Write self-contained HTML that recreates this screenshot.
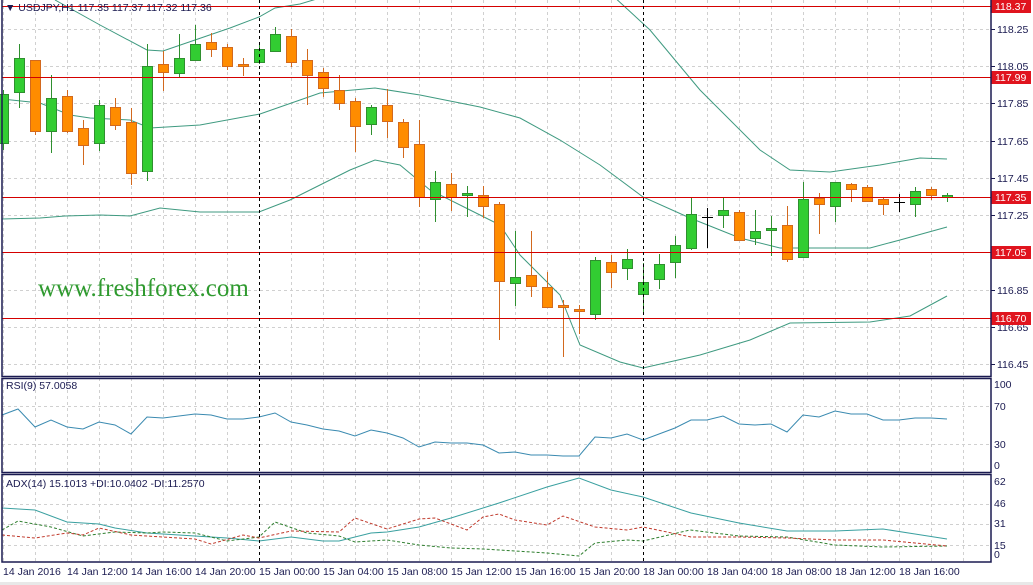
<!DOCTYPE html>
<html><head><meta charset="utf-8"><style>
html,body{margin:0;padding:0;background:#fff;}
svg{display:block;font-family:"Liberation Sans",sans-serif;}
</style></head><body>
<svg id="s" width="1033" height="585" viewBox="0 0 1033 585" xmlns="http://www.w3.org/2000/svg">
<rect width="1033" height="585" fill="#fff"/>
<g id="grid" stroke="#d0d0d0" stroke-dasharray="3,3" stroke-width="1"></g>
<g id="bands" fill="none" stroke="#3f9a80" stroke-width="1"></g>
<g id="candles"></g>
<g id="reds" stroke="#d40000" stroke-width="1" shape-rendering="crispEdges"></g>
<g id="ind" fill="none"></g>
<text x="38" y="296" font-family="Liberation Serif,serif" font-size="25" fill="#2f9a2f">www.freshforex.com</text>
<text x="5" y="11" font-size="10.5" fill="#1a1a50">▼ USDJPY,H1  117.35 117.37 117.32 117.36</text>
<text x="6" y="389" font-size="10.5" fill="#1a1a50">RSI(9) 57.0058</text>
<text x="6" y="487" font-size="10.5" fill="#1a1a50">ADX(14) 15.1013 +DI:10.0402 -DI:11.2570</text>
<g font-size="10.5" fill="#1a1a50">
<text x="997" y="33">118.25</text><text x="997" y="70">118.05</text><text x="997" y="107">117.85</text>
<text x="997" y="145">117.65</text><text x="997" y="182">117.45</text><text x="997" y="219">117.25</text>
<text x="997" y="294">116.85</text><text x="997" y="331">116.65</text><text x="997" y="368">116.45</text>
<text x="994" y="388">100</text><text x="994" y="410">70</text><text x="994" y="448">30</text><text x="994" y="469">0</text>
<text x="994" y="485">62</text><text x="994" y="507">46</text><text x="994" y="527">31</text><text x="994" y="549">15</text><text x="994" y="558">0</text>
</g>
<g font-size="10.5" fill="#1a1a50">
<text x="3" y="575">14 Jan 2016</text><text x="67" y="575">14 Jan 12:00</text><text x="131" y="575">14 Jan 16:00</text>
<text x="195" y="575">14 Jan 20:00</text><text x="259" y="575">15 Jan 00:00</text><text x="323" y="575">15 Jan 04:00</text>
<text x="387" y="575">15 Jan 08:00</text><text x="451" y="575">15 Jan 12:00</text><text x="515" y="575">15 Jan 16:00</text>
<text x="579" y="575">15 Jan 20:00</text><text x="643" y="575">18 Jan 00:00</text><text x="707" y="575">18 Jan 04:00</text>
<text x="771" y="575">18 Jan 08:00</text><text x="835" y="575">18 Jan 12:00</text><text x="899" y="575">18 Jan 16:00</text>
</g>
<g id="lbl" font-size="10.5" fill="#fff"></g>
<g stroke="#000" stroke-dasharray="3,3"><line x1="259.5" y1="0" x2="259.5" y2="562"/><line x1="643.5" y1="0" x2="643.5" y2="562"/></g>
<g fill="none" stroke="#1a1a50" stroke-width="1.5">
<rect x="2" y="-1" width="989" height="377.5"/>
<rect x="2" y="378.5" width="989" height="94"/>
<rect x="2" y="474.5" width="989" height="87.5"/>
</g>
<rect x="0" y="582" width="1033" height="3" fill="#e8e8e8"/>
</svg>
<script>
var NS="http://www.w3.org/2000/svg";
function el(p,t,a){var e=document.createElementNS(NS,t);for(var k in a)e.setAttribute(k,a[k]);document.getElementById(p).appendChild(e);return e;}
for(var x=3;x<991;x+=32){el("grid","line",{x1:x+.5,y1:0,x2:x+.5,y2:562});}
[29,66,103,141,178,215,252,290,327,364,406,444,504,524,545].forEach(function(y){el("grid","line",{x1:2,y1:y+.5,x2:991,y2:y+.5});});
[29,66,103,141,178,215,252,290,327,364].forEach(function(y){el("grid","line",{x1:991,y1:y+.5,x2:995,y2:y+.5,stroke:"#1a1a50","stroke-dasharray":"none"});});
[[6,"118.37"],[77,"117.99"],[197,"117.35"],[252,"117.05"],[318,"116.70"]].forEach(function(r){
 el("reds","line",{x1:2,y1:r[0]+.5,x2:991,y2:r[0]+.5});
 el("lbl","rect",{x:991,y:r[0]-6,width:40,height:13,fill:"#e0141e"});
 var t=el("lbl","text",{x:995,y:r[0]+4});t.textContent=r[1];
});
function pl(g,pts,a){a.points=pts.map(function(p){return p.join(",")}).join(" ");return el(g,"polyline",a);}
pl("bands",[[55,0],[100,25],[147,50],[163,51],[195,40],[230,28],[259,17],[275,8],[300,4],[330,-5]],{});
pl("bands",[[612,-5],[650,30],[700,90],[760,150],[790,170],[830,172],[880,165],[920,158],[947,159]],{});
pl("bands",[[2,99],[40,103],[70,115],[90,118],[130,120],[150,128],[200,125],[260,114],[300,100],[320,93],[375,88],[420,95],[480,107],[520,118],[560,140],[600,165],[643,197],[690,218],[740,238],[780,248],[870,248],[900,240],[947,227]],{});
pl("bands",[[2,219],[40,218],[65,216],[100,215],[130,216],[160,208],[200,212],[259,212],[290,200],[320,185],[350,170],[375,160],[400,165],[430,190],[480,215],[500,225],[520,255],[560,295],[580,345],[620,362],[643,368],[700,355],[750,340],[790,323],[870,322],[910,316],[947,296]],{});
var c=[["g",94,143,90,150],["g",58,92,44,108],["o",60,131,60,135],["g",98,131,75,153],["o",96,131,90,133],["o",128,145,120,165],["g",105,143,100,151],["o",107,125,98,130],["o",122,173,108,185],["g",66,171,44,181],
["o",64,72,51,91],["g",58,73,34,78],["g",44,60,25,60],["o",42,49,33,57],["o",47,66,44,70],["o",64,66,58,76],["g",49,62,44,64],["g",34,51,27,51],["o",36,62,29,67],["o",60,75,49,105],
["o",72,88,68,97],["o",90,103,75,110],["o",101,126,98,152],["g",107,124,105,135],["o",105,121,89,138],["o",122,147,119,158],["o",144,197,120,207],["g",182,199,171,222],["o",184,197,173,211],["g",193,195,186,217],
["o",195,206,186,218],["o",204,281,202,340],["g",277,283,231,306],["o",275,286,231,297],["o",287,307,272,307],["o",305,307,300,357],["o",309,311,305,334],["g",260,314,257,320],["o",262,272,255,288],["g",259,268,249,280],
["g",282,294,263,314],["g",264,279,254,289],["g",245,262,236,278],["g",214,248,198,250],["d",217,217,208,248],["g",210,215,198,228],["o",212,240,210,240],["g",231,238,210,245],["g",228,230,216,256],["o",225,259,206,262],
["g",199,257,182,257],["o",198,204,193,234],["g",182,206,182,222],["o",184,189,183,202],["o",187,201,185,202],["o",199,204,198,215],["d",202,202,194,212],["g",191,204,187,217],["o",189,195,187,200],["g",195,197,193,202]];
c.forEach(function(k,i){
 var x=3+16*i, col=k[0]=="g"?"#2f8f2f":(k[0]=="o"?"#d2691e":"#000"), fill=k[0]=="g"?"#32cd32":"#ff8c00";
 el("candles","line",{x1:x+.5,y1:k[3],x2:x+.5,y2:k[4],stroke:col});
 if(k[0]=="d") el("candles","line",{x1:x-5,y1:k[1]+.5,x2:x+6,y2:k[1]+.5,stroke:"#000"});
 else el("candles","rect",{x:x-4.5,y:k[1]+.5,width:10,height:Math.max(1,k[2]-k[1]),fill:fill,stroke:col});
});
pl("ind",[[2,415],[18,409],[35,427],[51,420],[67,427],[83,429],[99,422],[115,425],[131,434],[147,417],[163,418],[195,414],[211,415],[227,419],[243,419],[259,417],[275,413],[291,422],[307,425],[323,429],[339,431],[355,436],[371,430],[387,433],[403,438],[419,447],[435,442],[451,443],[467,443],[483,445],[499,453],[515,452],[531,455],[547,455],[563,456],[579,456],[595,437],[611,438],[627,434],[643,440],[659,434],[675,428],[691,420],[707,420],[723,416],[739,424],[755,425],[771,424],[787,432],[803,415],[819,417],[835,411],[851,414],[867,414],[883,420],[899,420],[915,418],[931,418],[947,419]],{stroke:"#3a8ab0"});
pl("ind",[[2,508],[35,510],[67,522],[99,524],[115,528],[147,533],[195,536],[227,538],[259,541],[291,537],[323,541],[339,541],[371,533],[387,532],[419,527],[451,518],[499,503],[547,487],[579,478],[611,490],[643,497],[691,513],[739,523],[787,531],[835,531],[883,529],[915,534],[947,539]],{stroke:"#3aa0a0"});
pl("ind",[[2,530],[18,521],[51,527],[83,536],[115,532],[147,533],[163,532],[195,533],[227,541],[259,537],[275,522],[307,533],[339,536],[355,542],[371,541],[387,540],[419,545],[451,548],[483,549],[547,553],[579,556],[595,543],[627,540],[643,541],[690,530],[739,536],[787,537],[835,545],[883,547],[947,546]],{stroke:"#2f7f2f","stroke-dasharray":"3,2"});
pl("ind",[[2,535],[35,538],[67,533],[83,535],[99,528],[131,535],[195,539],[211,544],[243,535],[259,538],[291,531],[339,532],[355,518],[387,529],[419,519],[435,518],[467,530],[483,517],[499,514],[515,520],[547,525],[563,516],[595,527],[627,530],[643,527],[691,537],[739,537],[787,538],[835,540],[883,540],[947,546]],{stroke:"#c0392b","stroke-dasharray":"3,2"});
</script>
</body></html>
